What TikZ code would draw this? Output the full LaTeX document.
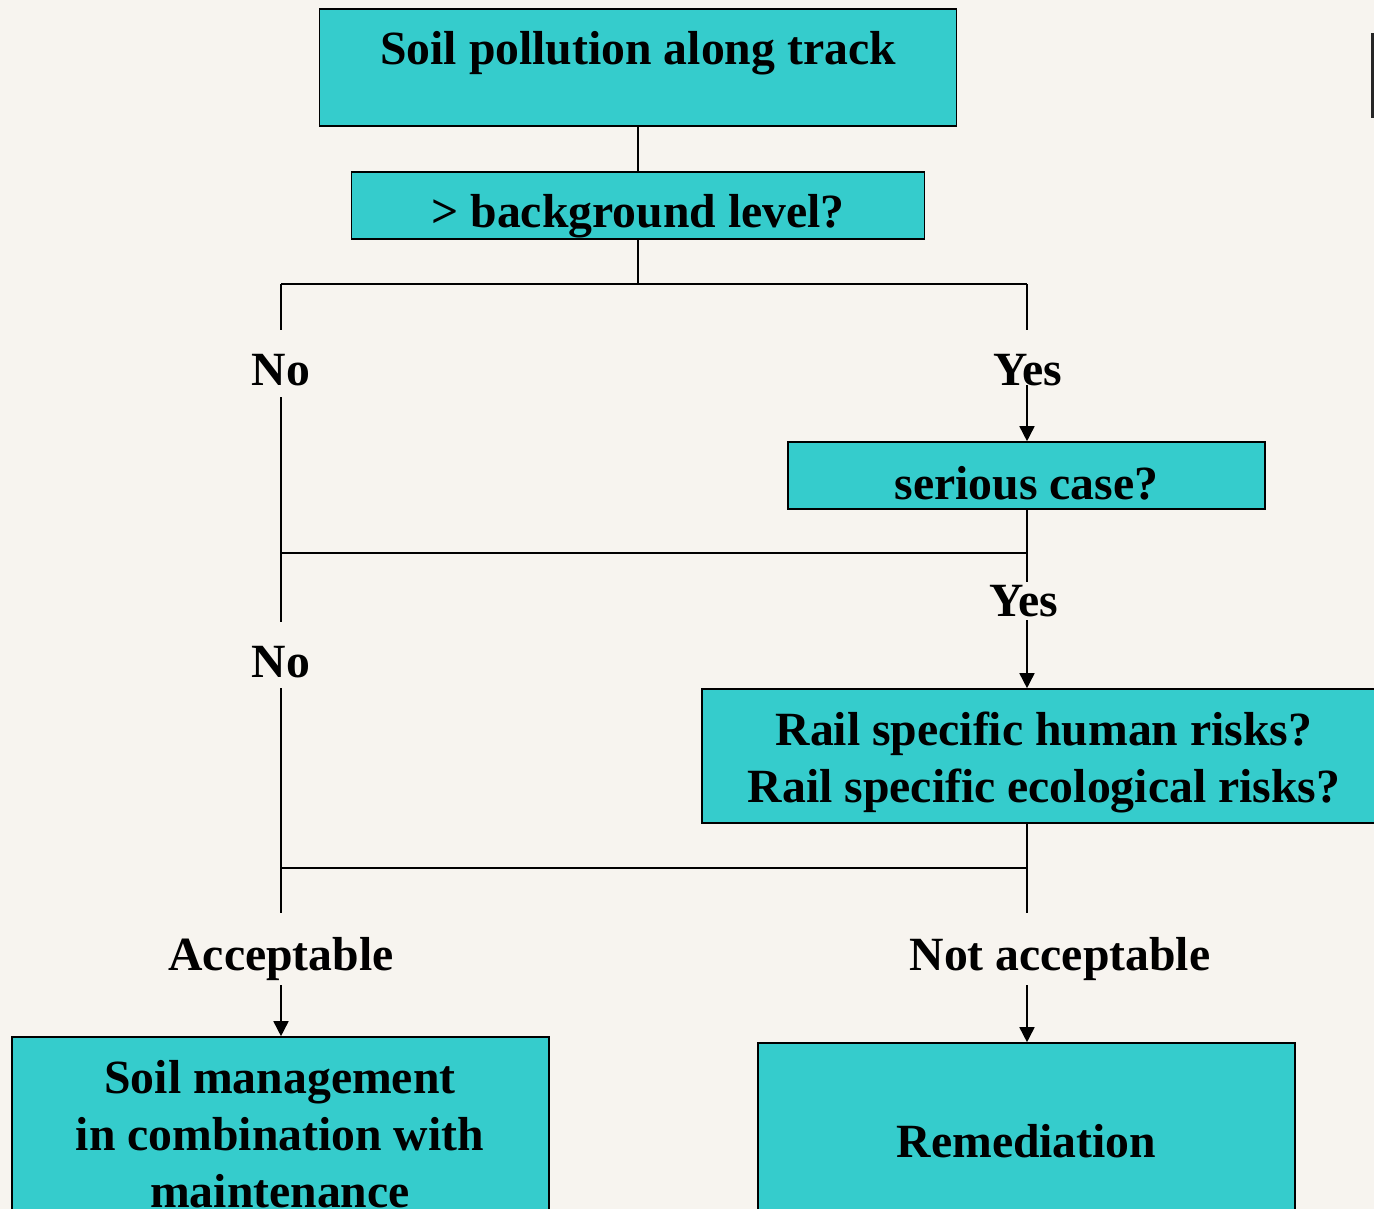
\documentclass[tikz,border=0pt]{standalone}
\usepackage{fontspec}
\setmainfont{Liberation Serif}
\usetikzlibrary{arrows.meta}
\definecolor{bgc}{HTML}{F7F4EF}
\definecolor{boxfill}{HTML}{35CCCC}
\newcommand{\flowfont}{\fontsize{47.7}{57}\selectfont\bfseries}
\begin{document}
\begin{tikzpicture}[x=1pt,y=-1pt,
  box/.style={draw=black, fill=boxfill, line width=1.6pt, inner sep=0pt, font=\flowfont},
  txt/.style={inner sep=0pt, anchor=base, font=\flowfont},
  lbl/.style 2 args={fill=bgc, inner xsep=2pt, inner ysep=0pt, text height=#1pt, text depth=#2pt, anchor=base, font=\flowfont},
  conn/.style={line width=1.6pt},
  arr/.style={conn, -{Triangle[length=15pt,width=15pt]}}]
\useasboundingbox (0,0) rectangle (1374,1209);
\clip (0,0) rectangle (1374,1209);
\fill[bgc] (0,0) rectangle (1374,1209);
\fill[black!85] (1371,33) rectangle (1374,118);
% boxes
\node[box, minimum width=637pt, minimum height=117pt, text height=30pt, text depth=35pt] (top) at (638,67.5) {Soil pollution along track};
\node[box, minimum width=573pt, minimum height=67pt, text height=50pt, text depth=5pt] (bg) at (638,205.5) {> background level?};
\node[box, minimum width=477pt, minimum height=67pt, text height=51pt, text depth=4pt] (sc) at (1026.5,475.5) {serious case?};
\node[box, minimum width=684pt, minimum height=134pt] (rail) at (1044,756) {};
\node[txt] (rail1) at (1044,745) {Rail specific human risks?};
\node[txt] (rail2) at (1044,802) {Rail specific ecological risks?};
\node[box, minimum width=537pt, minimum height=204pt] (sm) at (280.5,1139) {};
\node[txt] (sm1) at (280,1093) {Soil management};
\node[txt] (sm2) at (280,1150) {in combination with};
\node[txt] (sm3) at (280,1207) {maintenance};
\node[box, minimum width=537pt, minimum height=198pt, text height=34pt, text depth=4pt] (rem) at (1026.5,1142) {Remediation};
% junctions
\coordinate (j1) at (638,284);
\coordinate (jl1) at (281,284);
\coordinate (jr1) at (1027,284);
\coordinate (jl2) at (281,553);
\coordinate (jr2) at (1027,553);
\coordinate (jl3) at (281,868);
\coordinate (jr3) at (1027,868);
% connectors
\draw[conn] (top.south) -- (bg.north);
\draw[conn] (bg.south) -- (j1);
\draw[conn] (jl1) -- (jr1);
\draw[arr] (jl1) -- (jl1 |- sm.north);
\draw[arr] (jr1) -- (jr1 |- sc.north);
\draw[conn] (sc.south -| jr2) -- (jr2) -- (jl2);
\draw[arr] (jr2) -- (jr2 |- rail.north);
\draw[conn] (rail.south -| jr3) -- (jr3) -- (jl3);
\draw[arr] (jr3) -- (jr3 |- rem.north);
% labels
\node[lbl={55}{12}] (no1) at (281,385) {No};
\node[lbl={55}{0}] (yes1) at (1027.5,385) {Yes};
\node[lbl={34}{4}] (yes2) at (1024,616) {Yes};
\node[lbl={55}{11}] (no2) at (281,677) {No};
\node[lbl={57}{15}] (acc) at (281,970) {Acceptable};
\node[lbl={57}{15}] (nacc) at (1060,970) {Not acceptable};
\end{tikzpicture}
\end{document}
